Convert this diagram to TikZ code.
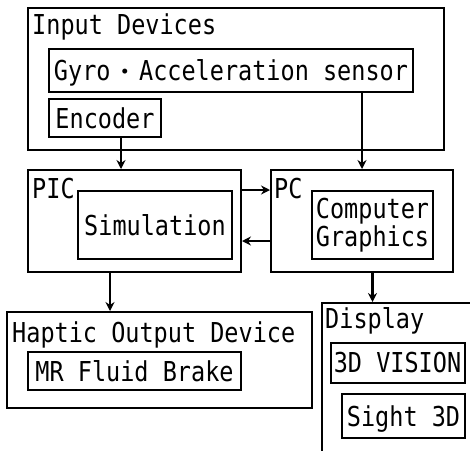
\documentclass[tikz,border=0pt]{standalone}
\usepackage{fontspec}
\newfontfamily\gmono[FakeStretch=0.858]{DejaVu Sans Mono}
\newfontfamily\cjk{Noto Sans CJK JP}
\usetikzlibrary{arrows.meta}
\tikzset{
  lbl/.style={font=\gmono\fontsize{27.4}{23}\selectfont},
  box/.style={draw, line width=2pt, inner sep=0pt, lbl},
  capc/.style={text height=20pt, text depth=0pt},
  ttl/.style={lbl, anchor=base west, inner sep=0pt},
  arr/.style={line width=2.6pt, -{Stealth[length=9pt,width=9pt]}},
}
\begin{document}
\begin{tikzpicture}[x=1pt,y=-1pt]
\useasboundingbox (0,0) rectangle (470,450);
\clip (0,0) rectangle (470,450);
\fill[white] (0,0) rectangle (470,450);
% Input devices
\node[box, minimum width=416pt, minimum height=142pt] (indev) at (236,79) {};
\node[ttl] (indevt) at (32,34) {Input Devices};
\node[box, capc, minimum width=364pt, minimum height=43pt] (gyro) at (231,70.5) {Gyro\hspace{2.5pt}{\cjk\fontsize{23.5}{23}\selectfont ・}\hspace{2.5pt}Acceleration sensor};
\node[box, capc, minimum width=112pt, minimum height=38pt] (enc) at (105,118) {Encoder};
% PIC
\node[box, minimum width=213pt, minimum height=102pt] (pic) at (134.5,221) {};
\node[ttl] (pict) at (32,198) {PIC};
\node[box, capc, minimum width=154pt, minimum height=68pt] (sim) at (155,225) {Simulation};
% PC
\node[box, minimum width=182pt, minimum height=102pt] (pc) at (362,221) {};
\node[ttl] (pct) at (274,198) {PC};
\node[box, minimum width=121pt, minimum height=68pt, align=center] (cg) at (372.5,225) {Computer\\Graphics};
% Haptic
\node[box, minimum width=305pt, minimum height=96pt] (hap) at (159.5,360) {};
\node[ttl] (hapt) at (12,342) {Haptic Output Device};
\node[box, capc, minimum width=213pt, minimum height=38pt] (mr) at (134.5,371) {MR Fluid Brake};
% Display
\node[box, minimum width=168pt, minimum height=168pt] (disp) at (405.5,387) {};
\node[ttl] (dispt) at (325,328) {Display};
\node[box, capc, minimum width=134pt, minimum height=40pt] (v3d) at (397.5,362.5) {3D VISION};
\node[box, capc, minimum width=123pt, minimum height=44pt] (s3d) at (403.5,416) {Sight 3D};
% arrows
\draw[arr] ([xshift=16pt]enc.south) -- ([xshift=16pt]enc.south |- pic.north);
\draw[arr] (pc.north |- gyro.south) -- (pc.north);
\draw[arr] (pic.east |- sim.north) -- (pc.west |- sim.north);
\draw[arr] ([yshift=-20pt]pc.west) -- ([yshift=-20pt]pic.east);
\draw[arr] ([xshift=-24.5pt]pic.south) -- ([xshift=-24.5pt]pic.south |- hap.north);
\draw[arr] (cg.south |- pc.south) -- (cg.south |- disp.north);
\end{tikzpicture}
\end{document}
